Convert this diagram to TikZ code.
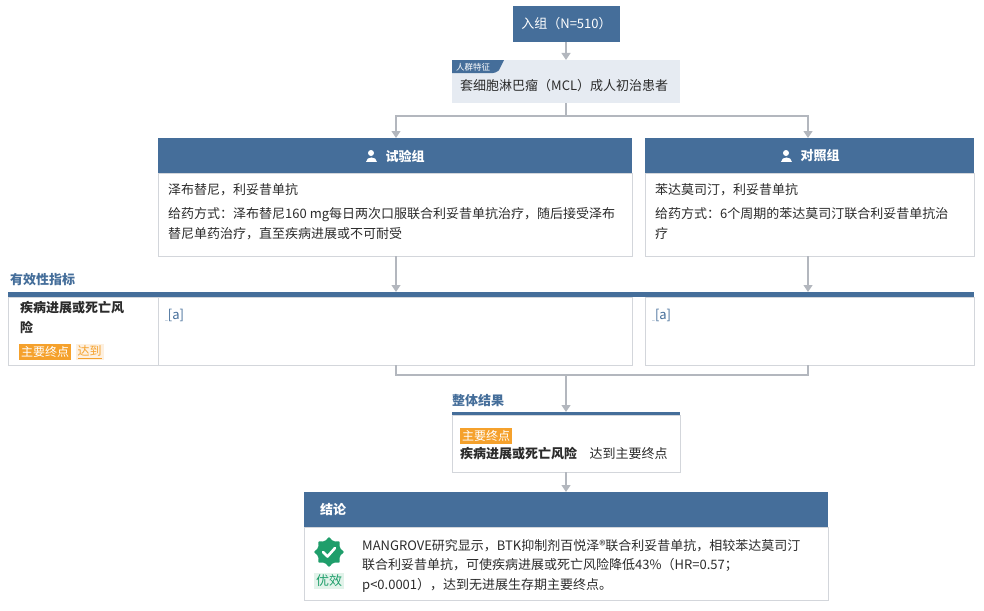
\documentclass[tikz,border=0pt]{standalone}
\usepackage{fontspec}
\setmainfont{Noto Sans CJK SC}
\usetikzlibrary{arrows.meta,positioning}
\definecolor{hdrblue}{HTML}{456E9A}
\definecolor{poplight}{HTML}{E6EBF2}
\definecolor{edgegray}{HTML}{B3B7BE}
\definecolor{boxgray}{HTML}{D3D6DB}
\definecolor{endorange}{HTML}{F5A12C}
\definecolor{endlight}{HTML}{FDF0E0}
\definecolor{effgreen}{HTML}{1F9E6B}
\definecolor{efflight}{HTML}{E2F3EA}
\definecolor{txtdark}{HTML}{2B2B2B}
\tikzset{
  flow/.style={draw=edgegray,line width=1.2pt,-{Triangle[width=9pt,length=7pt]}},
  link/.style={draw=edgegray,line width=1.2pt},
  hdr/.style={fill=hdrblue,draw=none},
  body/.style={fill=white,draw=boxgray,line width=0.8pt},
  txt/.style={anchor=north west,inner sep=0pt,align=left,text=txtdark,font=\fontsize{13}{20}\selectfont},
  tag/.style={inner sep=2pt,font=\fontsize{12}{13}\selectfont}
}
\newcommand{\personicon}[1]{%
  \fill[white] (#1)++(0,-3) circle (3);
  \fill[white] (#1)++(-5.5,6) .. controls +(0,-6) and +(0,-6) .. +(11,0) -- cycle;}
\begin{document}
\begin{tikzpicture}[x=1pt,y=-1pt]
\useasboundingbox (0,0) rectangle (984,610);
% enrollment
\fill[hdr] (513,6) rectangle (620,42);
\node[text=white,font=\fontsize{13}{14}\selectfont] (enroll) at (566.5,24) {入组（N=510）};
\coordinate (enrollS) at (566,42);
% population
\fill[poplight] (452,60) rectangle (680,103);
\coordinate (popN) at (566,60);
\coordinate (popS) at (566,103);
\fill[hdrblue] (452,60) -- (504,60) -- (499,70) [rounded corners=3pt]-- (496,73) [sharp corners]-- (452,73) -- cycle;
\node[text=white,font=\fontsize{8.5}{9}\selectfont,anchor=west,inner sep=0pt] (poptag) at (456,67) {人群特征};
\node[txt] (pop) at (460,79) {套细胞淋巴瘤（MCL）成人初治患者};
\draw[flow] (enrollS) -- (popN);
% arms
\fill[hdr] (158,138) rectangle (632,173);
\draw[body] (158,173) rectangle (632,256);
\personicon{371,156}
\node[text=white,font=\bfseries\fontsize{13}{14}\selectfont,anchor=west] (expH) at (382,156) {试验组};
\node[txt] (exp1) at (168,183) {泽布替尼，利妥昔单抗};
\node[txt] (exp2) at (168,207) {给药方式：泽布替尼160 mg每日两次口服联合利妥昔单抗治疗，随后接受泽布\\替尼单药治疗，直至疾病进展或不可耐受};
\fill[hdr] (645,138) rectangle (974,173);
\draw[body] (645,173) rectangle (974,256);
\personicon{786,156}
\node[text=white,font=\bfseries\fontsize{13}{14}\selectfont,anchor=west] (ctlH) at (797,156) {对照组};
\node[txt] (ctl1) at (655,183) {苯达莫司汀，利妥昔单抗};
\node[txt] (ctl2) at (655,207) {给药方式：6个周期的苯达莫司汀联合利妥昔单抗治\\疗};
\coordinate (split) at (566,116);
\coordinate (expN) at (396,138);
\coordinate (ctlN) at (808,138);
\draw[link] (popS) -- (split);
\draw[flow] (split) -| (expN);
\draw[flow] (split) -| (ctlN);
% efficacy table
\node[anchor=west,inner sep=0pt,text=hdrblue,font=\bfseries\fontsize{13}{14}\selectfont] (effT) at (10,280) {有效性指标};
\fill[hdrblue] (8,292) rectangle (974,297);
\draw[body] (8,297) rectangle (158,365);
\draw[body] (158,297) rectangle (632,365);
\draw[body] (645,297) rectangle (974,365);
\node[txt,font=\bfseries\fontsize{13}{20}\selectfont] (ep) at (20,301) {疾病进展或死亡风\\险};
\node[tag,fill=endorange,text=white,anchor=west] (epTag) at (19,352) {主要终点};
\node[tag,fill=endlight,text=endorange,anchor=west,right=4pt of epTag] (epMet) {\underline{达到}};
\node[anchor=west,inner sep=0pt,text=hdrblue,font=\fontsize{13}{14}\selectfont] (expRef) at (165,315) {\raisebox{-1pt}{\tiny\_}[a]};
\node[anchor=west,inner sep=0pt,text=hdrblue,font=\fontsize{13}{14}\selectfont] (ctlRef) at (652,315) {\raisebox{-1pt}{\tiny\_}[a]};
\coordinate (expS) at (396,256);
\coordinate (ctlS) at (808,256);
\coordinate (expT) at (396,292);
\coordinate (ctlT) at (808,292);
\draw[flow] (expS) -- (expT);
\draw[flow] (ctlS) -- (ctlT);
% overall
\coordinate (expB) at (396,365);
\coordinate (ctlB) at (808,365);
\coordinate (merge) at (566,375);
\coordinate (ovN) at (566,412);
\draw[link] (expB) |- (merge) -| (ctlB);
\draw[flow] (merge) -- (ovN);
\node[anchor=west,inner sep=0pt,text=hdrblue,font=\bfseries\fontsize{13}{14}\selectfont] (ovT) at (452,401) {整体结果};
\fill[hdrblue] (452,412) rectangle (680,415);
\draw[body] (452,415) rectangle (680,472);
\node[tag,fill=endorange,text=white,anchor=west] (ovTag) at (460,436) {主要终点};
\node[anchor=west,inner sep=0pt,text=txtdark,font=\bfseries\fontsize{13}{14}\selectfont] (ovEp) at (460,454) {疾病进展或死亡风险};
\node[anchor=west,inner sep=0pt,text=txtdark,font=\fontsize{13}{14}\selectfont,right=12pt of ovEp] (ovRes) {达到主要终点};
% conclusion
\coordinate (ovS) at (566,472);
\coordinate (conN) at (566,492);
\draw[flow] (ovS) -- (conN);
\fill[hdr] (304,492) rectangle (828,527);
\node[anchor=west,inner sep=0pt,text=white,font=\bfseries\fontsize{13}{14}\selectfont] (conH) at (320,510) {结论};
\draw[body] (304,527) rectangle (828,600);
\fill[effgreen] plot[smooth cycle,samples=24,domain=0:345,variable=\t] ({329+(13+1.8*cos(8*\t))*cos(\t)},{552+(13+1.8*cos(8*\t))*sin(\t)});
\draw[white,line width=2.6pt,line cap=round,line join=round] (323,552) -- (327.5,556.5) -- (335,548);
\node[tag,fill=efflight,text=effgreen,font=\fontsize{13}{14}\selectfont] (conTag) at (329,581) {优效};
\node[txt,font=\fontsize{13}{19.5}\selectfont] (conTxt) at (362,539) {MANGROVE研究显示，BTK抑制剂百悦泽®联合利妥昔单抗，相较苯达莫司汀\\联合利妥昔单抗，可使疾病进展或死亡风险降低43\%（HR=0.57；\\p<0.0001），达到无进展生存期主要终点。};
\end{tikzpicture}
\end{document}
